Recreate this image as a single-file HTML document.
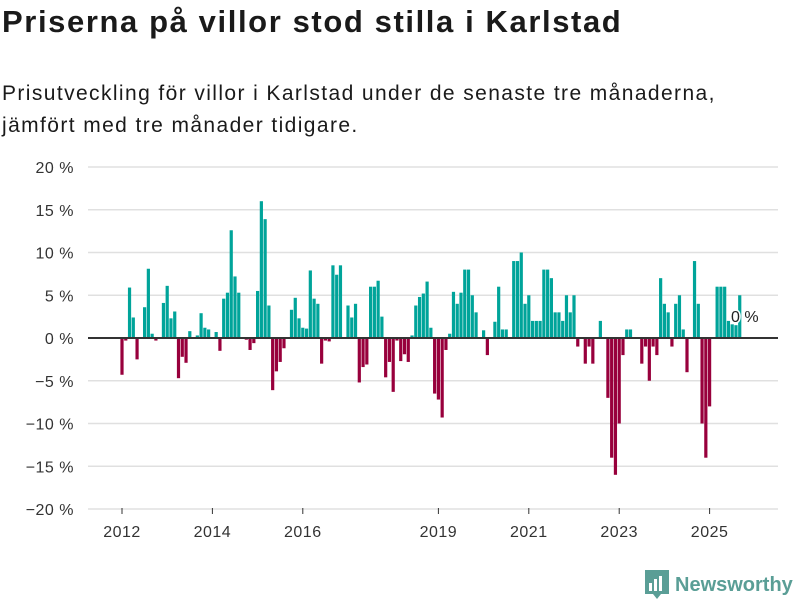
<!DOCTYPE html>
<html><head><meta charset="utf-8"><style>
body{margin:0;width:800px;height:600px;background:#fff;font-family:"Liberation Sans",sans-serif;color:#1a1a1a;overflow:hidden;position:relative}
h1{position:absolute;left:2px;top:4px;margin:0;font-size:31px;font-weight:bold;letter-spacing:1.6px;white-space:nowrap}
.sub{position:absolute;left:2px;top:78px;margin:0;font-size:21px;line-height:32px;letter-spacing:1.4px;white-space:nowrap}
svg{position:absolute;left:0;top:0}
</style></head><body>
<h1>Priserna på villor stod stilla i Karlstad</h1>
<p class="sub">Prisutveckling för villor i Karlstad under de senaste tre månaderna,<br>jämfört med tre månader tidigare.</p>
<svg id="chart" width="800" height="600"></svg>
<script>
const yTicks=[20,15,10,5,0,-5,-10,-15,-20];
const xTickYears=[2012,2014,2016,2019,2021,2023,2025];
const startYear=2012;
const values=[
-4.3,-0.3,5.9,2.4,-2.5,0,3.6,8.1,0.5,-0.3,0.1,4.1,
6.1,2.3,3.1,-4.7,-2.2,-2.9,0.8,0,0.3,2.9,1.2,1.0,
0,0.7,-1.5,4.6,5.3,12.6,7.2,5.3,0,-0.2,-1.4,-0.6,
5.5,16,13.9,3.8,-6.1,-3.9,-2.8,-1.2,0,3.3,4.7,2.3,
1.2,1.1,7.9,4.6,4.0,-3.0,-0.3,-0.4,8.5,7.4,8.5,0,
3.8,2.4,4.0,-5.2,-3.4,-3.1,6.0,6.0,6.7,2.5,-4.6,-2.8,
-6.3,-0.3,-2.7,-1.9,-2.8,0.3,3.8,4.8,5.2,6.6,1.2,-6.5,
-7.2,-9.3,-1.4,0.5,5.4,4.0,5.3,8.0,8.0,5.0,3.0,0,
0.9,-2.0,0,1.9,6.0,1.0,1.0,0,9,9,10,4,
5,2,2,2,8,8,7,3,3,2,5,3,
5,-1,0,-3,-1,-3,0,2,0,-7,-14,-16,
-10,-2,1,1,0,0,-3,-1,-5,-1,-2,7,
4,3,-1,4,5,1,-4,0,9,4,-10,-14,
-8,0,6,6,6,2,1.6,1.5,5];
const lastLabel="0 %";
const NS="http://www.w3.org/2000/svg";
const svg=document.getElementById('chart');
const y=v=>338-v*8.55;
const x=t=>122+(t-startYear)*45.2;
function mk(tag,attrs){const e=document.createElementNS(NS,tag);for(const k in attrs)e.setAttribute(k,attrs[k]);svg.appendChild(e);return e;}
yTicks.forEach(v=>{
  const g=mk('line',{x1:88,x2:778,y1:y(v),y2:y(v),stroke:'#e0e0e0','stroke-width':1.5});
  
  
  const t=mk('text',{x:74,y:y(v)+6,'text-anchor':'end','font-size':16,fill:'#333','letter-spacing':0.5});
  t.textContent=(v<0?'−'+Math.abs(v):v)+' %';
  
  
});
xTickYears.forEach(yr=>{
  const l=mk('line',{x1:x(yr),x2:x(yr),y1:508,y2:514,stroke:'#333','stroke-width':1});
  
  
  const t=mk('text',{x:x(yr),y:537,'text-anchor':'middle','font-size':16,fill:'#333','letter-spacing':0.5});
  t.textContent=yr;
  
  
});
values.forEach((v,i)=>{
  if(v===0)return;
  const cx=x(startYear+i/12);
  const r=mk('rect',{x:cx-1.6,width:3.2,y:Math.min(y(v),y(0)),height:Math.abs(y(v)-y(0)),fill:v>0?'#00a49a':'#98003c'});
  
  
});
const z=mk('line',{x1:88,x2:778,y1:y(0),y2:y(0),stroke:'#333','stroke-width':2});


const lt=mk('text',{x:731,y:322,'font-size':16,fill:'#222',stroke:'#fff','stroke-width':3,'paint-order':'stroke'});
lt.textContent=lastLabel;


</script>
<div style="position:absolute;left:645px;top:570px;height:30px;display:flex;align-items:center">
<svg width="24" height="30" viewBox="0 0 24 30" style="position:static"><path d="M0 0h24v24h-8l-4 5-4-5H0z" fill="#5a9e96"/><rect x="4" y="13" width="3" height="8" fill="#fff"/><rect x="9" y="9" width="3" height="12" fill="#fff"/><rect x="14" y="6" width="3" height="15" fill="#fff"/></svg>
<span style="margin-left:6px;font-size:20px;font-weight:bold;color:#5a9e96">Newsworthy</span></div>
</body></html>
